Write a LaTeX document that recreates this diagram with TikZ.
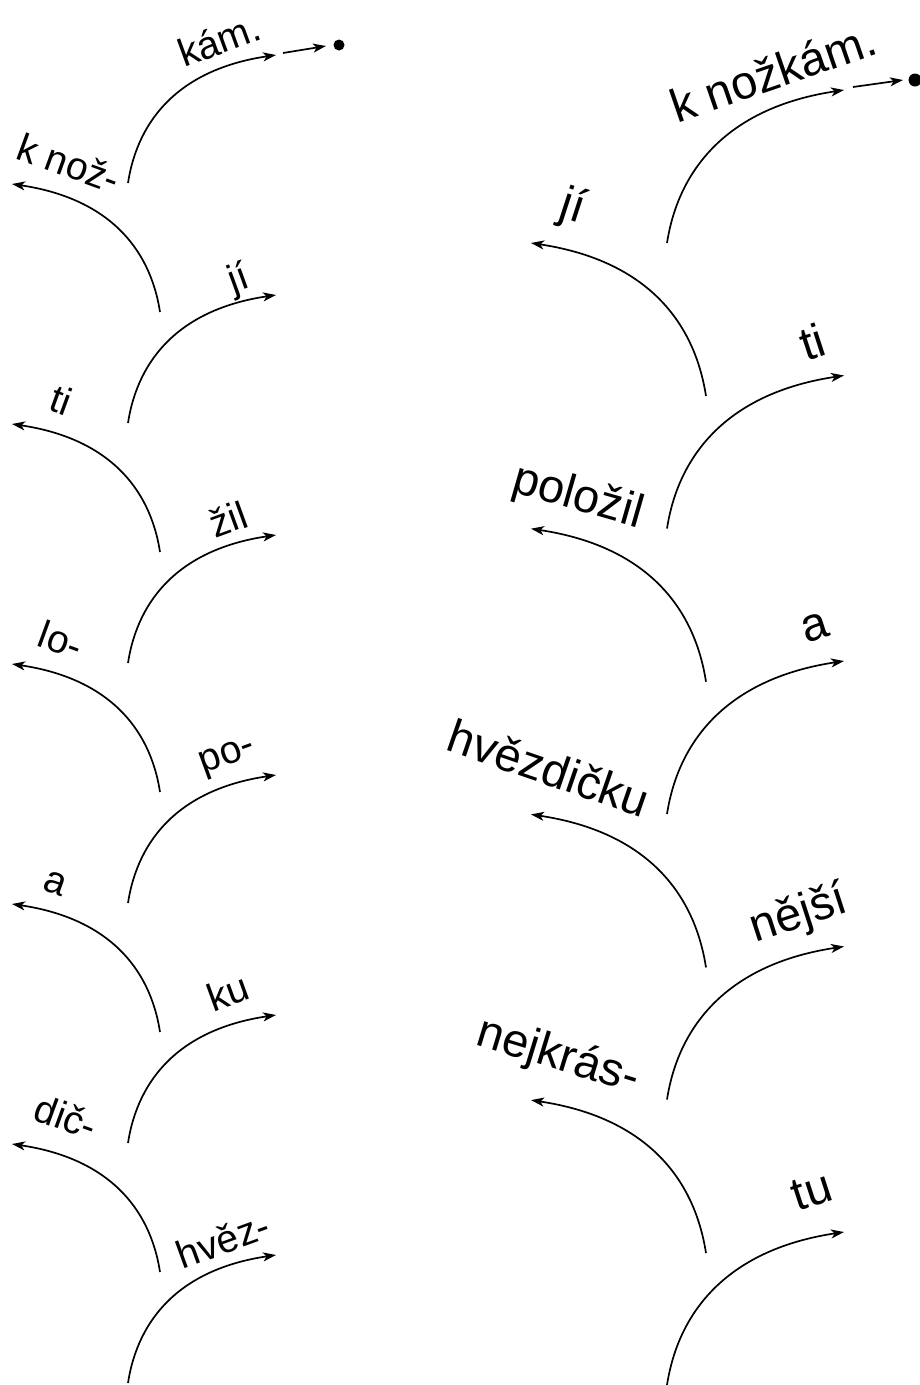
\documentclass[tikz,border=0pt]{standalone}
\usepackage{fontspec}
\setmainfont{Liberation Sans}
\usetikzlibrary{arrows.meta}
\begin{document}
\begin{tikzpicture}[x=1pt,y=-1pt,
  arcline/.style={line width=1.7pt, -{Stealth[length=13pt,width=9pt,inset=3.5pt]}},
  sm/.style={font=\fontsize{39}{42}\selectfont, inner sep=0pt, anchor=center},
  big/.style={font=\fontsize{47}{50}\selectfont, inner sep=0pt, anchor=center},
  dotnode/.style={circle, fill=black, inner sep=0pt},
]
\useasboundingbox (0,0) rectangle (920,1385);
% ---------- left column ----------
\foreach \k in {0,...,5}{
  \coordinate (lrs\k) at (128,{183+240*\k});
  \coordinate (lre\k) at (276,{55+240*\k});
  \draw[arcline] (lrs\k) .. controls +(10,-65) and +(-95,14) .. (lre\k);
}
\foreach \k in {0,...,4}{
  \coordinate (lls\k) at (160,{312+240*\k});
  \coordinate (lle\k) at (12,{184+240*\k});
  \draw[arcline] (lls\k) .. controls +(-10,-65) and +(95,14) .. (lle\k);
}
\node[sm, rotate=20]  (t1)  at (219,40)   {kám.};
\node[sm, rotate=-20] (t2)  at (69,163)   {k nož-};
\node[sm, rotate=20]  (t3)  at (239,280)  {jí};
\node[sm, rotate=-20] (t4)  at (61,400)   {ti};
\node[sm, rotate=20]  (t5)  at (228,519)  {žil};
\node[sm, rotate=-20] (t6)  at (61,640)   {lo-};
\node[sm, rotate=20]  (t7)  at (228,758)  {po-};
\node[sm, rotate=-20] (t8)  at (55,884)   {a};
\node[sm, rotate=20]  (t9)  at (228,992)  {ku};
\node[sm, rotate=-20] (t10) at (66,1117)  {dič-};
\node[sm, rotate=20]  (t11) at (223,1240) {hvěz-};
\coordinate (la) at (283,53);
\coordinate (lb) at (326,46);
\node[dotnode, minimum size=11pt] (ldot) at (339,45) {};
\draw[arcline] (la) -- (lb);
% ---------- right column ----------
\foreach \k in {0,...,4}{
  \coordinate (rrs\k) at (667,{243+285.5*\k});
  \coordinate (rre\k) at (844,{90+285.5*\k});
  \draw[arcline] (rrs\k) .. controls +(12,-77) and +(-113,17) .. (rre\k);
}
\foreach \k in {0,...,3}{
  \coordinate (rls\k) at (706,{396+285.7*\k});
  \coordinate (rle\k) at (531,{243+285.7*\k});
  \draw[arcline] (rls\k) .. controls +(-12,-77) and +(113,17) .. (rle\k);
}
\node[big, rotate=19]  (u1) at (773,72)   {k nožkám.};
\node[big, rotate=-18] (u2) at (573,208)  {jí};
\node[big, rotate=18]  (u3) at (812,342)  {ti};
\node[big, rotate=-16] (u4) at (578,498)  {položil};
\node[big, rotate=18]  (u5) at (815,628)  {a};
\node[big, rotate=-19] (u6) at (549,768)  {hvězdičku};
\node[big, rotate=18]  (u7) at (799,915)  {nější};
\node[big, rotate=-17] (u8) at (558,1057) {nejkrás-};
\node[big, rotate=18]  (u9) at (812,1191) {tu};
\coordinate (ra) at (853,87);
\coordinate (rb) at (903,80);
\node[dotnode, minimum size=13pt] (rdot) at (915,80) {};
\draw[arcline] (ra) -- (rb);
\end{tikzpicture}
\end{document}
